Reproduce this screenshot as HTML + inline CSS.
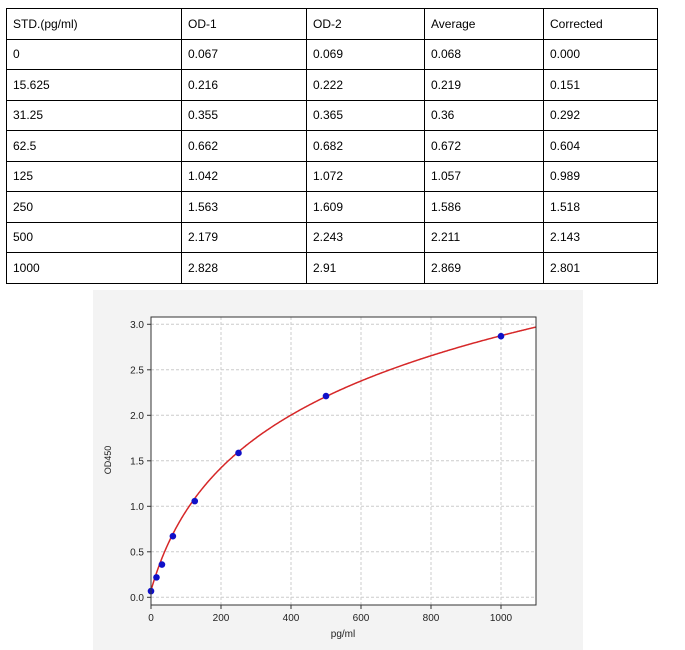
<!DOCTYPE html>
<html><head><meta charset="utf-8"><style>
body{margin:0;background:#fff;width:685px;height:650px;overflow:hidden;font-family:"Liberation Sans",sans-serif}
table{position:absolute;left:6px;top:8px;border-collapse:collapse;font-size:12px;color:#000}
td{border:1px solid #000;height:30.5px;padding:0 0 0 6px;box-sizing:border-box}
</style></head><body>
<table>
<tr><td style="width:175px">STD.(pg/ml)</td><td style="width:125px">OD-1</td><td style="width:118px">OD-2</td><td style="width:119px">Average</td><td style="width:114px">Corrected</td></tr>
<tr><td>0</td><td>0.067</td><td>0.069</td><td>0.068</td><td>0.000</td></tr>
<tr><td>15.625</td><td>0.216</td><td>0.222</td><td>0.219</td><td>0.151</td></tr>
<tr><td>31.25</td><td>0.355</td><td>0.365</td><td>0.36</td><td>0.292</td></tr>
<tr><td>62.5</td><td>0.662</td><td>0.682</td><td>0.672</td><td>0.604</td></tr>
<tr><td>125</td><td>1.042</td><td>1.072</td><td>1.057</td><td>0.989</td></tr>
<tr><td>250</td><td>1.563</td><td>1.609</td><td>1.586</td><td>1.518</td></tr>
<tr><td>500</td><td>2.179</td><td>2.243</td><td>2.211</td><td>2.143</td></tr>
<tr><td>1000</td><td>2.828</td><td>2.91</td><td>2.869</td><td>2.801</td></tr>
</table>
<svg id="s" style="position:absolute;left:0;top:0" width="685" height="650" font-family="Liberation Sans, sans-serif" font-size="10" fill="#222">
<rect x="93" y="290" width="490" height="360" fill="#f3f3f3"/>
<rect x="151" y="317" width="385" height="288" fill="#fff"/>
<g id="g"></g>
<rect x="151" y="317" width="385" height="288" fill="none" stroke="#333" stroke-width="1"/>
<text x="111" y="460" transform="rotate(-90 111 460)" text-anchor="middle" font-size="9">OD450</text>
<text x="343" y="637" text-anchor="middle" font-size="10">pg/ml</text>
</svg>
<script>
var g=document.getElementById('g'),h='';
function X(v){return 151+v*0.35}function Y(v){return 597.3-v*91}
[0,200,400,600,800,1000].forEach(function(v){var x=X(v);h+='<line x1="'+x+'" y1="317" x2="'+x+'" y2="605" stroke="#ccc" stroke-dasharray="3,2"/><line x1="'+x+'" y1="605" x2="'+x+'" y2="609" stroke="#333"/><text x="'+x+'" y="621" text-anchor="middle">'+v+'</text>';});
[0,0.5,1,1.5,2,2.5,3].forEach(function(v){var y=Y(v);h+='<line x1="151" y1="'+y+'" x2="536" y2="'+y+'" stroke="#ccc" stroke-dasharray="3,2"/><line x1="147" y1="'+y+'" x2="151" y2="'+y+'" stroke="#333"/><text x="144" y="'+(y+3.5)+'" text-anchor="end">'+v.toFixed(1)+'</text>';});
var p='';for(var xv=0;xv<=1100;xv+=2){var yv=0.075+1.0757*Math.log(1+xv/80);p+=(xv?'L':'M')+X(xv).toFixed(1)+','+Y(yv).toFixed(1);}
h+='<path d="'+p+'" fill="none" stroke="#d62728" stroke-width="1.5"/>';
[[0,0.068],[15.625,0.219],[31.25,0.36],[62.5,0.672],[125,1.057],[250,1.586],[500,2.211],[1000,2.869]].forEach(function(a){h+='<circle cx="'+X(a[0])+'" cy="'+Y(a[1])+'" r="3.3" fill="#1010c8"/>';});
g.innerHTML=h;
</script>
</body></html>
